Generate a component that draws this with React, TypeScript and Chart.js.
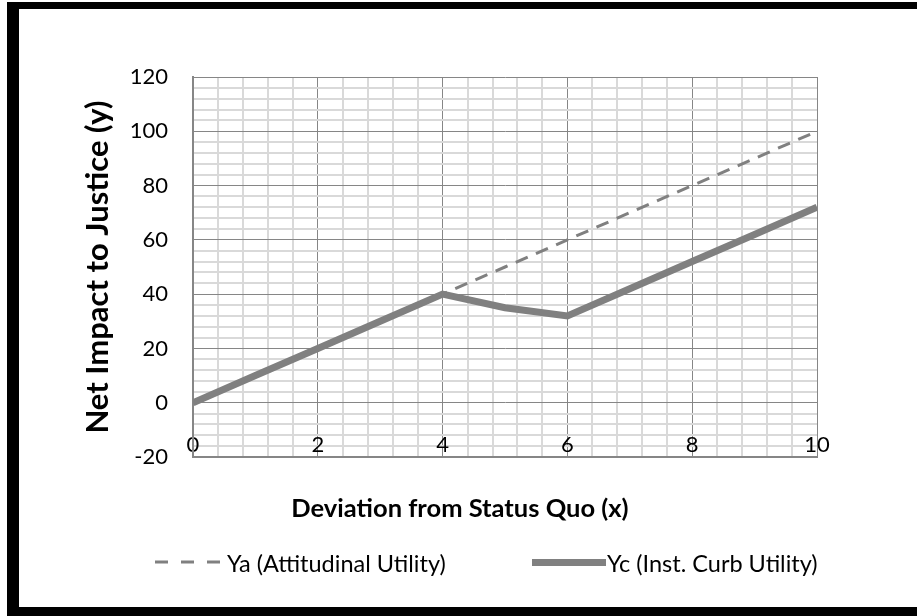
import React, { useEffect, useRef } from 'react';
import { Chart, registerables } from 'chart.js';

Chart.register(...registerables);

// ---- data ----
const xValues = [0, 1, 2, 3, 4, 5, 6, 7, 8, 9, 10];
const yaValues = [0, 10, 20, 30, 40, 50, 60, 70, 80, 90, 100];
const ycValues = [0, 10, 20, 30, 40, 35, 32, 42, 52, 62, 72];
const seriesNames = ['Ya (Attitudinal Utility)', 'Yc (Inst. Curb Utility)'];
const xTitle = 'Deviation from Status Quo (x)';
const yTitle = 'Net Impact to Justice (y)';
const xRange = [0, 10];
const yRange = [-20, 120];
const xMinorStep = 0.4;
const xMajorStep = 2;
const yMinorStep = 4;
const yMajorStep = 20;

const LINE_COLOR = '#808080';
const MAJOR_GRID = '#868686';
const MINOR_GRID = '#d9d9d9';
const FONT = 'Lato, "Open Sans", sans-serif';

const isMajor = (v: number, step: number) => Math.abs(v / step - Math.round(v / step)) < 1e-6;

export default function App() {
  const canvasRef = useRef<HTMLCanvasElement | null>(null);

  useEffect(() => {
    const canvas = canvasRef.current;
    if (!canvas) return;
    const chart = new Chart(canvas, {
      type: 'line',
      data: {
        datasets: [
          {
            label: seriesNames[0],
            data: xValues.map((x, i) => ({ x, y: yaValues[i] })),
            borderColor: LINE_COLOR,
            backgroundColor: LINE_COLOR,
            borderWidth: 3,
            borderDash: [13, 9],
            pointRadius: 0,
            fill: false,
            tension: 0,
          },
          {
            label: seriesNames[1],
            data: xValues.map((x, i) => ({ x, y: ycValues[i] })),
            borderColor: LINE_COLOR,
            backgroundColor: LINE_COLOR,
            borderWidth: 7,
            pointRadius: 0,
            fill: false,
            tension: 0,
          },
        ],
      },
      options: {
        responsive: true,
        maintainAspectRatio: false,
        animation: false,
        layout: { padding: { left: 60, top: 77, right: 100, bottom: 139 } },
        plugins: {
          legend: { display: false },
          tooltip: { enabled: false },
        },
        scales: {
          x: {
            type: 'linear',
            min: xRange[0],
            max: xRange[1],
            ticks: {
              stepSize: xMinorStep,
              autoSkip: false,
              maxRotation: 0,
              minRotation: 0,
              maxTicksLimit: 1000,
              mirror: true,
              padding: -1,
              color: '#000',
              font: { family: FONT, size: 22 },
              callback: (v: any) => (isMajor(Number(v), xMajorStep) ? String(Math.round(Number(v))) : ''),
            },
            grid: {
              drawTicks: false,
              color: (c: any) => (isMajor(c.tick.value, xMajorStep) ? MAJOR_GRID : MINOR_GRID),
              lineWidth: (c: any) => (isMajor(c.tick.value, xMajorStep) ? 1 : 2),
            },
            border: { color: MAJOR_GRID, width: 2 },
            afterFit: (s: any) => {
              s.height = 20;
            },
          },
          y: {
            type: 'linear',
            min: yRange[0],
            max: yRange[1],
            ticks: {
              stepSize: yMinorStep,
              autoSkip: false,
              maxTicksLimit: 1000,
              padding: 25,
              color: '#000',
              font: { family: FONT, size: 22 },
              callback: (v: any) => (isMajor(Number(v), yMajorStep) ? String(Math.round(Number(v))) : ''),
            },
            grid: {
              drawTicks: false,
              color: (c: any) => (isMajor(c.tick.value, yMajorStep) ? MAJOR_GRID : MINOR_GRID),
              lineWidth: (c: any) => (isMajor(c.tick.value, yMajorStep) ? 1 : 2),
            },
            border: { color: MAJOR_GRID, width: 2 },
            title: {
              display: true,
              text: yTitle,
              color: '#000',
              font: { family: FONT, size: 31, weight: 'bold' },
              padding: { top: 19, bottom: 0 },
            },
            afterFit: (s: any) => {
              s.width = 133;
            },
          },
        },
      },
    } as any);
    return () => chart.destroy();
  }, []);

  const abs = (style: React.CSSProperties): React.CSSProperties => ({ position: 'absolute', ...style });

  return (
    <div style={abs({ left: 0, top: 0, width: 917, height: 616, background: '#fff', overflow: 'hidden' })}>
      <div style={abs({ left: 0, top: 0, width: 917, height: 616 })}>
        <canvas ref={canvasRef} />
      </div>
      {/* frame */}
      <div style={abs({ left: 7, top: 2, width: 910, height: 7, background: '#000' })} />
      <div style={abs({ left: 7, top: 2, width: 12, height: 614, background: '#000' })} />
      <div style={abs({ left: 7, top: 607, width: 910, height: 9, background: '#000' })} />
      {/* x axis title */}
      <div
        style={abs({
          left: 210,
          top: 492,
          width: 500,
          textAlign: 'center',
          fontFamily: FONT,
          fontWeight: 'bold',
          fontSize: 25.5,
          lineHeight: '31px',
          color: '#000',
          whiteSpace: 'nowrap',
        })}
      >
        {xTitle}
      </div>
      {/* legend */}
      <svg style={abs({ left: 155, top: 556, width: 70, height: 12 })} width={70} height={12}>
        <line x1={0} y1={6} x2={67} y2={6} stroke={LINE_COLOR} strokeWidth={3} strokeDasharray="13 13" />
      </svg>
      <div
        style={abs({
          left: 227,
          top: 549,
          fontFamily: FONT,
          fontSize: 23.5,
          lineHeight: '28px',
          color: '#000',
          whiteSpace: 'nowrap',
        })}
      >
        {seriesNames[0]}
      </div>
      <div style={abs({ left: 532, top: 559, width: 74, height: 7, background: LINE_COLOR })} />
      <div
        style={abs({
          left: 607,
          top: 549,
          fontFamily: FONT,
          fontSize: 23.5,
          lineHeight: '28px',
          color: '#000',
          whiteSpace: 'nowrap',
        })}
      >
        {seriesNames[1]}
      </div>
    </div>
  );
}
